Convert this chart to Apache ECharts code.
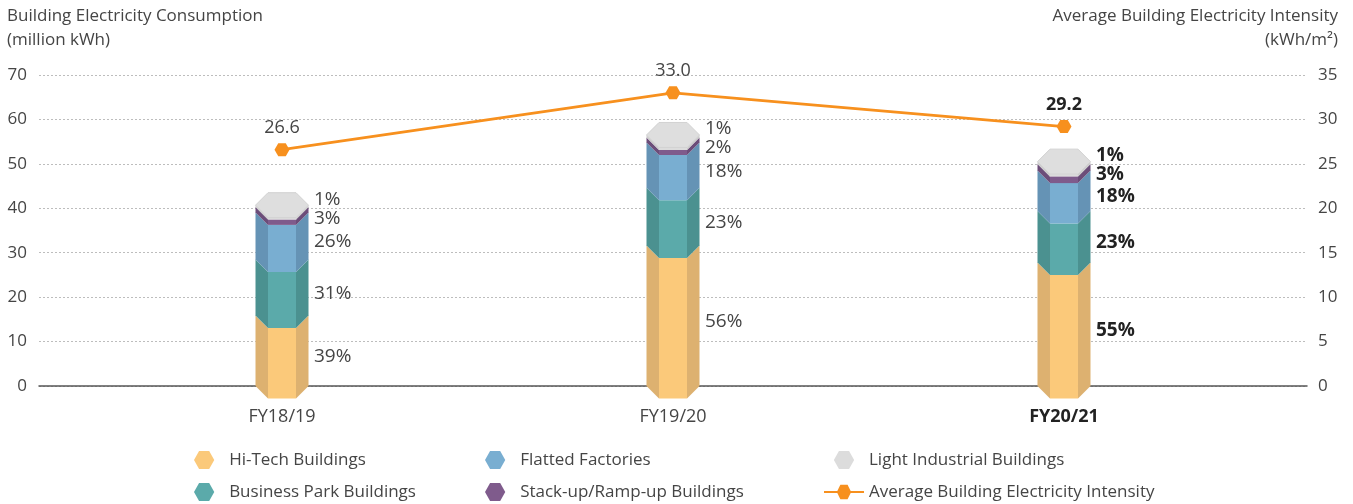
<!DOCTYPE html>
<html>
<head>
<meta charset="utf-8">
<script src="https://cdn.jsdelivr.net/npm/echarts@6/dist/echarts.min.js"></script>
<style>
  html, body { margin: 0; padding: 0; background: #ffffff; }
  #chart { width: 1353px; height: 504px; }
</style>
</head>
<body>
<div id="chart"></div>
<script>
// Financial years shown on the category axis
const categories = ['FY18/19', 'FY19/20', 'FY20/21'];
const boldCategory = 'FY20/21';

// Total building electricity consumption (million kWh)
const totalConsumption = [40.7, 56.5, 50.5];

// Share of total consumption by building type (%)
const hiTechShare = [39, 56, 55];
const businessParkShare = [31, 23, 23];
const flattedShare = [26, 18, 18];
const stackUpShare = [3, 2, 3];
const lightIndustrialShare = [1, 1, 1];

// Average building electricity intensity (kWh/m2)
const intensity = [26.6, 33.0, 29.2];

const FONT = "'Open Sans', 'Noto Sans', sans-serif";
const TEXT = '#454545';
const HEX_PATH = 'path://M0,8 L4.5,0 L13.5,0 L18,8 L13.5,16 L4.5,16 Z';

const buildingTypes = [
  { name: 'Hi-Tech Buildings', share: hiTechShare, front: '#FBC97A', side: '#DDB170', kind: 'main' },
  { name: 'Business Park Buildings', share: businessParkShare, front: '#5BAAAA', side: '#4B9190', kind: 'main' },
  { name: 'Flatted Factories', share: flattedShare, front: '#79AED1', side: '#6593B5', kind: 'main' },
  { name: 'Stack-up/Ramp-up Buildings', share: stackUpShare, front: '#7F5B8C', side: '#6C4D79', kind: 'stack' },
  { name: 'Light Industrial Buildings', share: lightIndustrialShare, front: '#DCDCDC', side: '#CBCBCB', kind: 'light' }
];

// Cumulative stacking: each item is [x, start, end, share, total]
const cumulative = totalConsumption.map(() => 0);
const stackedData = buildingTypes.map(t => t.share.map((s, i) => {
  const value = totalConsumption[i] * s / 100;
  const start = cumulative[i];
  cumulative[i] += value;
  return [i, start, start + value, s, totalConsumption[i]];
}));

const HALF = 26.5;    // half width of the prism
const INNER = 14;     // half width of the front face
const DEPTH = 12.5;   // vertical offset of the front edge (perspective)

function makeRenderer(type) {
  return function (params, api) {
    const xi = api.value(0);
    const p0 = api.coord([xi, api.value(1)]);
    const p1 = api.coord([xi, api.value(2)]);
    const total = api.value(4);
    const cx = p0[0], y0 = p0[1], y1 = p1[1];
    const xL = cx - HALF, xFL = cx - INNER, xFR = cx + INNER, xR = cx + HALF;
    const bold = categories[xi] === boldCategory;

    const children = [
      { type: 'polygon', shape: { points: [[xL, y1], [xFL, y1 + DEPTH], [xFL, y0 + DEPTH], [xL, y0]] },
        style: { fill: type.side } },
      { type: 'polygon', shape: { points: [[xFL, y1 + DEPTH], [xFR, y1 + DEPTH], [xFR, y0 + DEPTH], [xFL, y0 + DEPTH]] },
        style: { fill: type.front } },
      { type: 'polygon', shape: { points: [[xFR, y1 + DEPTH], [xR, y1], [xR, y0], [xFR, y0 + DEPTH]] },
        style: { fill: type.side } }
    ];

    if (type.kind === 'light') {
      // hexagonal top cap of the prism
      children.push({
        type: 'polygon',
        shape: { points: [[xL, y1], [xFL, y1 + DEPTH], [xFR, y1 + DEPTH], [xR, y1], [xFR, y1 - DEPTH], [xFL, y1 - DEPTH]] },
        style: { fill: '#DEDEDE', stroke: '#D2D2D2', lineWidth: 1 }
      });
    }

    const yTotal = api.coord([xi, total])[1];
    let ly;
    if (type.kind === 'main') ly = (y0 + y1) / 2 + 6;
    else if (type.kind === 'stack') ly = yTotal + 13;
    else ly = yTotal - 6;

    children.push({
      type: 'text',
      z2: 10,
      style: {
        text: api.value(3) + '%',
        x: cx + 32,
        y: ly,
        align: 'left',
        verticalAlign: 'middle',
        fill: bold ? '#222222' : TEXT,
        font: (bold ? 'bold ' : '') + '19px ' + FONT
      }
    });
    return { type: 'group', children };
  };
}

const chart = echarts.init(document.getElementById('chart'), null, { renderer: 'canvas' });

const customSeries = buildingTypes.map((t, k) => ({
  name: t.name,
  type: 'custom',
  xAxisIndex: 0,
  yAxisIndex: 0,
  renderItem: makeRenderer(t),
  itemStyle: { color: t.front },
  encode: { x: 0, y: [1, 2] },
  data: stackedData[k],
  z: 3
}));

const legendCommon = {
  orient: 'vertical',
  top: 451,
  padding: 0,
  itemWidth: 40,
  itemHeight: 18,
  itemGap: 14,
  textStyle: { fontSize: 17, color: TEXT, fontFamily: FONT, lineHeight: 18 },
  selectedMode: false
};

const option = {
  animation: false,
  backgroundColor: '#ffffff',
  textStyle: { fontFamily: FONT },
  grid: [
    { left: 39, right: 46, top: 75, bottom: 118 },
    { left: 86.5, right: 93.5, top: 75, bottom: 118 }
  ],
  xAxis: [
    {
      type: 'value', gridIndex: 0, min: -0.6215, max: 2.6215,
      axisLine: { show: true, lineStyle: { color: '#555555', width: 1.5 } },
      axisTick: { show: false }, axisLabel: { show: false }, splitLine: { show: false }
    },
    {
      type: 'category', gridIndex: 1, data: categories,
      axisLine: { show: false }, axisTick: { show: false },
      axisLabel: {
        margin: 22, fontSize: 18, color: TEXT, fontFamily: FONT,
        formatter: v => v === boldCategory ? '{b|' + v + '}' : v,
        rich: { b: { fontWeight: 'bold', fontSize: 18, color: '#222222', fontFamily: FONT } }
      }
    }
  ],
  yAxis: [
    {
      type: 'value', gridIndex: 0, min: 0, max: 70, interval: 10, position: 'left',
      axisLine: { show: false }, axisTick: { show: false },
      axisLabel: { margin: 12, fontSize: 17, color: TEXT, fontFamily: FONT },
      splitLine: { show: true, lineStyle: { color: '#BDBDBD', type: [2, 2], width: 1 } }
    },
    {
      type: 'value', gridIndex: 0, min: 0, max: 35, interval: 5, position: 'right',
      axisLine: { show: false }, axisTick: { show: false },
      axisLabel: { margin: 11, fontSize: 17, color: TEXT, fontFamily: FONT },
      splitLine: { show: false }
    },
    { type: 'value', gridIndex: 1, show: false, min: 0, max: 70 }
  ],
  legend: [
    Object.assign({}, legendCommon, { left: 194, data: [
      { name: 'Hi-Tech Buildings', icon: HEX_PATH },
      { name: 'Business Park Buildings', icon: HEX_PATH }
    ] }),
    Object.assign({}, legendCommon, { left: 485, data: [
      { name: 'Flatted Factories', icon: HEX_PATH },
      { name: 'Stack-up/Ramp-up Buildings', icon: HEX_PATH }
    ] }),
    Object.assign({}, legendCommon, { left: 823, data: [
      { name: 'Light Industrial Buildings', icon: HEX_PATH },
      { name: 'Average Building Electricity Intensity' }
    ] })
  ],
  graphic: [
    { type: 'text', left: 7, top: 8,
      style: { text: 'Building Electricity Consumption', font: '17px ' + FONT, fill: TEXT } },
    { type: 'text', left: 7, top: 32,
      style: { text: '(million kWh)', font: '17px ' + FONT, fill: TEXT } },
    { type: 'text', right: 15, top: 8,
      style: { text: 'Average Building Electricity Intensity', font: '17px ' + FONT, fill: TEXT } },
    { type: 'text', right: 15, top: 32,
      style: { text: '(kWh/m²)', font: '17px ' + FONT, fill: TEXT } }
  ],
  series: customSeries.concat([{
    name: 'Average Building Electricity Intensity',
    type: 'line',
    xAxisIndex: 0,
    yAxisIndex: 1,
    data: intensity.map((v, i) => ({
      value: [i, v],
      label: categories[i] === boldCategory
        ? { fontWeight: 'bold', color: '#222222' }
        : {}
    })),
    symbol: HEX_PATH,
    symbolSize: [15, 13],
    itemStyle: { color: '#F7901E' },
    lineStyle: { color: '#F7901E', width: 2.8 },
    label: {
      show: true, position: 'top', distance: 6,
      fontSize: 18, color: TEXT, fontFamily: FONT,
      formatter: p => p.value[1].toFixed(1)
    },
    z: 5
  }])
};

chart.setOption(option);
</script>
</body>
</html>
